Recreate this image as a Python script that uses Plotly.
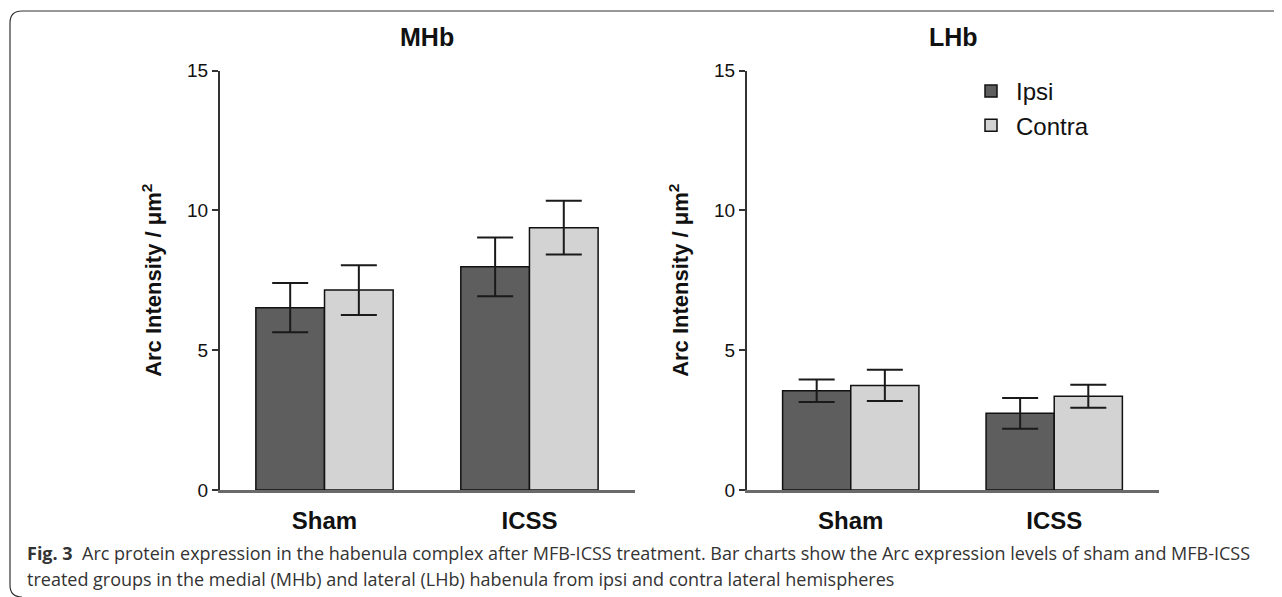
import plotly.graph_objects as go

# the page shows the figure 8 px in from the top-left corner (body margin),
# so the figure is sized to end at the window edge and positions are given in window pixels
OFF = 8
W, H = 1282 - OFF, 597 - OFF

groups = ["Sham", "ICSS"]
series_names = ["Ipsi", "Contra"]
mhb_ipsi = [6.52, 7.98]
mhb_ipsi_err = [0.88, 1.05]
mhb_contra = [7.15, 9.38]
mhb_contra_err = [0.89, 0.96]
lhb_ipsi = [3.55, 2.74]
lhb_ipsi_err = [0.40, 0.55]
lhb_contra = [3.74, 3.35]
lhb_contra_err = [0.56, 0.41]
panel_titles = ["MHb", "LHb"]
y_ticks = [0, 5, 10, 15]
caption1 = ("<b>Fig. 3</b>&nbsp;&nbsp;Arc protein expression in the habenula complex after MFB-ICSS treatment. "
            "Bar charts show the Arc expression levels of sham and MFB-ICSS")
caption2 = "treated groups in the medial (MHb) and lateral (LHb) habenula from ipsi and contra lateral hemispheres"

colors = {"Ipsi": "#5e5e5e", "Contra": "#d3d3d3"}

def px_x(x):
    return (x - OFF) / W

def px_y(y):
    return 1 - (y - OFF) / H

fig = go.Figure()

panels = [
    ("x", "y", mhb_ipsi, mhb_ipsi_err, mhb_contra, mhb_contra_err, True),
    ("x2", "y2", lhb_ipsi, lhb_ipsi_err, lhb_contra, lhb_contra_err, False),
]
for xa, ya, iv, ie, cv, ce, show in panels:
    for name, vals, errs in [("Ipsi", iv, ie), ("Contra", cv, ce)]:
        fig.add_trace(go.Bar(
            x=groups, y=vals, name=name, xaxis=xa, yaxis=ya,
            marker=dict(color=colors[name], line=dict(color="#111111", width=1.5)),
            error_y=dict(type="data", array=errs, visible=True, color="#1a1a1a",
                         thickness=2, width=18),
            showlegend=show, legendgroup=name,
        ))

yax_common = dict(
    range=[0, 15], tickvals=y_ticks, ticks="outside", ticklen=6, tickwidth=1.5,
    tickcolor="#333333", showline=True, linecolor="#333333", linewidth=2,
    showgrid=False, zeroline=False, domain=[px_y(490), px_y(70.5)], automargin=False,
    tickfont=dict(family="Liberation Sans, Arial", size=19, color="#111111"),
    title=dict(text="Arc Intensity / μm<sup>2</sup>", standoff=19,
               font=dict(family="Liberation Sans, Arial", size=22, color="#111111", weight="bold")),
)
xax_common = dict(
    type="category", range=[-0.51, 1.515], showline=True, linecolor="#6a6a6a",
    linewidth=3, ticks="", showgrid=False, zeroline=False, ticklabelstandoff=7,
    automargin=False,
    tickfont=dict(family="Liberation Sans, Arial", size=24, color="#111111", weight="bold"),
)

fig.update_layout(
    width=W, height=H, autosize=False,
    margin=dict(l=0, r=0, t=0, b=0, pad=0, autoexpand=False),
    paper_bgcolor="white", plot_bgcolor="white",
    barmode="group", bargap=0.33, bargroupgap=0,
    xaxis=dict(domain=[px_x(220), px_x(635)], anchor="y", **xax_common),
    yaxis=dict(anchor="x", **yax_common),
    xaxis2=dict(domain=[px_x(747), px_x(1159)], anchor="y2", **xax_common),
    yaxis2=dict(anchor="x2", **yax_common),
    legend=dict(x=px_x(966), y=px_y(69), xanchor="left", yanchor="top",
                font=dict(family="Liberation Sans, Arial", size=24, color="#111111"),
                bgcolor="rgba(0,0,0,0)", itemwidth=40, traceorder="normal"),
    font=dict(family="Liberation Sans, Arial"),
)

fig.add_annotation(text="<b>MHb</b>", x=px_x(427), y=px_y(37), xref="paper", yref="paper",
                   xanchor="center", yanchor="middle",
                   showarrow=False, font=dict(family="Liberation Sans, Arial", size=25, color="#111111"))
fig.add_annotation(text="<b>LHb</b>", x=px_x(953), y=px_y(37), xref="paper", yref="paper",
                   xanchor="center", yanchor="middle",
                   showarrow=False, font=dict(family="Liberation Sans, Arial", size=25, color="#111111"))

fig.add_annotation(text=caption1, x=px_x(25), y=px_y(553), xref="paper", yref="paper",
                   xanchor="left", yanchor="middle", showarrow=False,
                   font=dict(family="Open Sans", size=18, color="#333333"))
fig.add_annotation(text=caption2, x=px_x(25), y=px_y(579), xref="paper", yref="paper",
                   xanchor="left", yanchor="middle", showarrow=False,
                   font=dict(family="Open Sans", size=18, color="#333333"))

# journal frame
path = (f"M {px_x(22)},{px_y(597)} Q {px_x(10)},{px_y(597)} {px_x(10)},{px_y(585)} "
        f"L {px_x(10)},{px_y(23)} Q {px_x(10)},{px_y(11)} {px_x(22)},{px_y(11)} "
        f"L {px_x(1282)},{px_y(11)}")
fig.add_shape(type="path", path=path, xref="paper", yref="paper",
              line=dict(color="#333333", width=1.2))

fig.write_html("out.html")
